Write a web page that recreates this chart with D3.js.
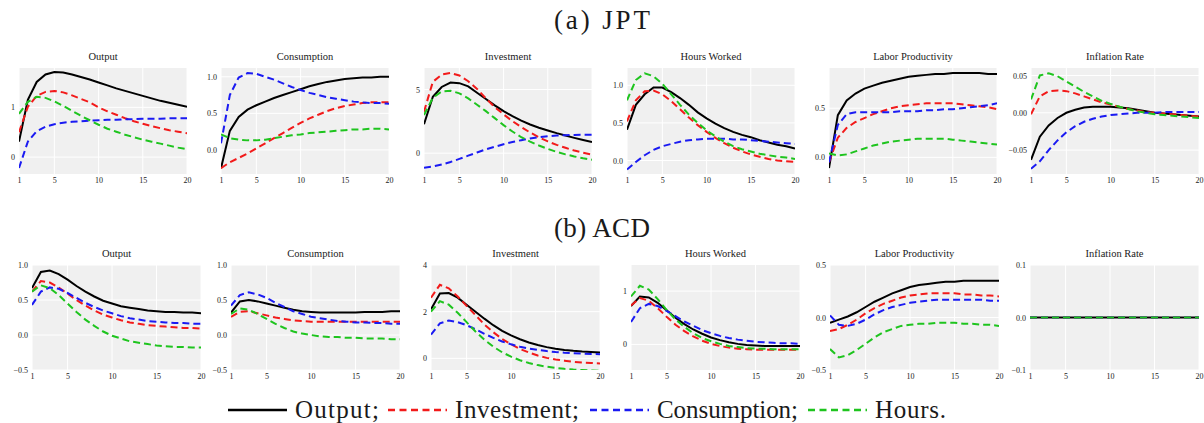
<!DOCTYPE html>
<html>
<head>
<meta charset="utf-8">
<script src="https://cdn.jsdelivr.net/npm/d3@7"></script>
<style>
  body { margin: 0; background: #ffffff; }
  text { font-family: "Liberation Serif", "DejaVu Serif", serif; fill: #1a1a1a; }
</style>
</head>
<body>
<svg id="chart" width="1204" height="423"></svg>
<script>
const steps = d3.range(1, 21);
const xTicks = [1, 5, 10, 15, 20];
const panelTitles = ['Output', 'Consumption', 'Investment', 'Hours Worked', 'Labor Productivity', 'Inflation Rate'];
const rowHeadings = ['(a) JPT', '(b) ACD'];
const seriesNames = ['Output;', 'Investment;', 'Consumption;', 'Hours.'];
const seriesColors = ['#000000', '#f21a1a', '#1a1af2', '#1ec41e'];

// each panel: [output, investment, consumption, hours] responses over 20 quarters
// (a) JPT
const jptOutput = [
    [0.31, 1.15, 1.51, 1.66, 1.71, 1.70, 1.66, 1.61, 1.56, 1.50, 1.44, 1.38, 1.33, 1.28, 1.23, 1.18, 1.13, 1.09, 1.05, 1.01],
    [0.50, 1.01, 1.23, 1.31, 1.33, 1.30, 1.24, 1.17, 1.10, 1.00, 0.92, 0.85, 0.78, 0.72, 0.67, 0.62, 0.58, 0.54, 0.51, 0.48],
    [-0.22, 0.31, 0.52, 0.61, 0.66, 0.69, 0.71, 0.72, 0.73, 0.74, 0.75, 0.75, 0.76, 0.76, 0.77, 0.77, 0.77, 0.78, 0.78, 0.78],
    [0.87, 1.11, 1.21, 1.19, 1.12, 1.03, 0.93, 0.83, 0.74, 0.65, 0.57, 0.51, 0.45, 0.40, 0.35, 0.31, 0.27, 0.23, 0.19, 0.16]
];
const jptConsumption = [
    [-0.25, 0.26, 0.45, 0.55, 0.61, 0.66, 0.71, 0.75, 0.79, 0.83, 0.87, 0.90, 0.93, 0.95, 0.97, 0.98, 0.99, 0.99, 1.00, 1.00],
    [-0.25, -0.17, -0.11, -0.05, 0.02, 0.09, 0.16, 0.23, 0.30, 0.37, 0.43, 0.48, 0.53, 0.57, 0.60, 0.62, 0.64, 0.65, 0.65, 0.65],
    [0.09, 0.75, 0.99, 1.05, 1.04, 1.00, 0.96, 0.91, 0.86, 0.82, 0.78, 0.75, 0.72, 0.70, 0.68, 0.66, 0.65, 0.64, 0.64, 0.63],
    [0.21, 0.16, 0.14, 0.13, 0.13, 0.14, 0.16, 0.18, 0.20, 0.21, 0.23, 0.24, 0.25, 0.26, 0.27, 0.28, 0.28, 0.29, 0.29, 0.28]
];
const jptInvestment = [
    [2.27, 4.43, 5.20, 5.55, 5.50, 5.25, 4.75, 4.25, 3.75, 3.30, 2.90, 2.55, 2.25, 2.00, 1.78, 1.57, 1.38, 1.20, 1.03, 0.87],
    [3.26, 5.60, 6.17, 6.30, 6.10, 5.65, 5.05, 4.30, 3.62, 3.05, 2.52, 2.05, 1.62, 1.25, 0.92, 0.65, 0.42, 0.20, 0.03, -0.13],
    [-1.15, -1.05, -0.90, -0.70, -0.45, -0.20, 0.05, 0.30, 0.50, 0.70, 0.88, 1.02, 1.15, 1.25, 1.33, 1.38, 1.41, 1.43, 1.44, 1.44],
    [3.00, 4.35, 4.85, 4.90, 4.70, 4.30, 3.80, 3.30, 2.75, 2.20, 1.70, 1.25, 0.90, 0.60, 0.33, 0.10, -0.10, -0.26, -0.40, -0.52]
];
const jptHours = [
    [0.41, 0.74, 0.88, 0.97, 0.97, 0.91, 0.83, 0.74, 0.64, 0.56, 0.49, 0.43, 0.38, 0.34, 0.31, 0.27, 0.24, 0.21, 0.19, 0.16],
    [0.52, 0.80, 0.92, 0.93, 0.88, 0.79, 0.68, 0.57, 0.47, 0.38, 0.30, 0.23, 0.17, 0.12, 0.08, 0.05, 0.02, 0.00, -0.01, -0.02],
    [-0.12, -0.02, 0.07, 0.14, 0.19, 0.22, 0.25, 0.27, 0.28, 0.29, 0.29, 0.29, 0.28, 0.28, 0.27, 0.26, 0.25, 0.24, 0.23, 0.22],
    [0.80, 1.07, 1.16, 1.12, 1.02, 0.88, 0.74, 0.61, 0.50, 0.40, 0.32, 0.25, 0.19, 0.15, 0.12, 0.09, 0.07, 0.05, 0.04, 0.02]
];
const jptProductivity = [
    [-0.11, 0.43, 0.58, 0.65, 0.70, 0.73, 0.76, 0.78, 0.80, 0.82, 0.83, 0.84, 0.85, 0.85, 0.86, 0.86, 0.86, 0.86, 0.85, 0.85],
    [-0.05, 0.20, 0.30, 0.36, 0.40, 0.44, 0.47, 0.50, 0.52, 0.53, 0.54, 0.55, 0.55, 0.55, 0.55, 0.54, 0.53, 0.52, 0.51, 0.49],
    [-0.05, 0.33, 0.44, 0.46, 0.46, 0.46, 0.46, 0.46, 0.47, 0.47, 0.47, 0.48, 0.48, 0.49, 0.49, 0.50, 0.51, 0.52, 0.53, 0.55],
    [0.04, 0.02, 0.03, 0.06, 0.09, 0.12, 0.14, 0.16, 0.17, 0.18, 0.19, 0.19, 0.19, 0.19, 0.18, 0.17, 0.16, 0.15, 0.14, 0.13]
];
const jptInflation = [
    [-0.063, -0.032, -0.017, -0.007, 0.000, 0.004, 0.007, 0.008, 0.008, 0.008, 0.007, 0.006, 0.004, 0.002, 0.000, -0.001, -0.002, -0.003, -0.004, -0.005],
    [-0.002, 0.022, 0.029, 0.030, 0.029, 0.026, 0.022, 0.018, 0.014, 0.011, 0.008, 0.005, 0.003, 0.001, 0.000, -0.001, -0.002, -0.003, -0.004, -0.005],
    [-0.075, -0.065, -0.050, -0.037, -0.026, -0.018, -0.012, -0.008, -0.005, -0.003, -0.002, -0.001, 0.000, 0.000, 0.000, 0.001, 0.001, 0.001, 0.001, 0.001],
    [0.018, 0.050, 0.053, 0.049, 0.042, 0.035, 0.028, 0.022, 0.016, 0.012, 0.008, 0.005, 0.002, 0.000, -0.002, -0.003, -0.004, -0.005, -0.006, -0.007]
];

// (b) ACD
const acdOutput = [
    [0.67, 0.90, 0.92, 0.87, 0.79, 0.70, 0.62, 0.55, 0.49, 0.45, 0.41, 0.39, 0.37, 0.35, 0.34, 0.33, 0.33, 0.32, 0.32, 0.31],
    [0.62, 0.77, 0.75, 0.68, 0.59, 0.50, 0.42, 0.35, 0.29, 0.25, 0.21, 0.18, 0.16, 0.14, 0.13, 0.12, 0.11, 0.10, 0.10, 0.09],
    [0.43, 0.62, 0.68, 0.66, 0.60, 0.53, 0.46, 0.40, 0.35, 0.31, 0.27, 0.24, 0.22, 0.20, 0.19, 0.18, 0.17, 0.17, 0.16, 0.16],
    [0.62, 0.71, 0.67, 0.57, 0.45, 0.33, 0.22, 0.13, 0.05, -0.01, -0.05, -0.09, -0.11, -0.13, -0.15, -0.16, -0.17, -0.17, -0.18, -0.18]
];
const acdConsumption = [
    [0.32, 0.48, 0.50, 0.48, 0.45, 0.42, 0.39, 0.36, 0.34, 0.33, 0.32, 0.32, 0.32, 0.32, 0.32, 0.33, 0.33, 0.33, 0.34, 0.34],
    [0.26, 0.33, 0.34, 0.31, 0.28, 0.25, 0.23, 0.21, 0.20, 0.19, 0.19, 0.19, 0.19, 0.19, 0.19, 0.19, 0.19, 0.19, 0.19, 0.19],
    [0.42, 0.57, 0.61, 0.58, 0.53, 0.46, 0.40, 0.34, 0.30, 0.26, 0.24, 0.22, 0.20, 0.19, 0.18, 0.18, 0.17, 0.17, 0.16, 0.16],
    [0.30, 0.38, 0.36, 0.30, 0.23, 0.16, 0.10, 0.05, 0.02, 0.00, -0.02, -0.03, -0.03, -0.04, -0.04, -0.05, -0.05, -0.05, -0.06, -0.06]
];
const acdInvestment = [
    [2.10, 2.78, 2.80, 2.60, 2.30, 2.00, 1.70, 1.42, 1.18, 0.98, 0.82, 0.68, 0.57, 0.48, 0.41, 0.36, 0.32, 0.29, 0.27, 0.25],
    [2.60, 3.15, 3.00, 2.65, 2.25, 1.85, 1.45, 1.12, 0.83, 0.60, 0.40, 0.25, 0.12, 0.02, -0.05, -0.10, -0.15, -0.18, -0.20, -0.22],
    [1.02, 1.50, 1.62, 1.55, 1.42, 1.25, 1.05, 0.88, 0.72, 0.60, 0.50, 0.42, 0.36, 0.31, 0.27, 0.24, 0.22, 0.20, 0.19, 0.18],
    [2.00, 2.45, 2.30, 1.95, 1.55, 1.15, 0.80, 0.50, 0.26, 0.07, -0.08, -0.20, -0.29, -0.36, -0.41, -0.45, -0.48, -0.50, -0.52, -0.53]
];
const acdHours = [
    [0.72, 0.90, 0.88, 0.78, 0.64, 0.50, 0.38, 0.28, 0.20, 0.13, 0.08, 0.04, 0.01, -0.01, -0.02, -0.03, -0.03, -0.03, -0.03, -0.03],
    [0.73, 0.87, 0.82, 0.68, 0.52, 0.37, 0.25, 0.15, 0.07, 0.01, -0.03, -0.06, -0.08, -0.09, -0.10, -0.10, -0.10, -0.10, -0.10, -0.10],
    [0.42, 0.68, 0.76, 0.72, 0.63, 0.53, 0.43, 0.35, 0.27, 0.21, 0.16, 0.12, 0.09, 0.07, 0.05, 0.04, 0.03, 0.02, 0.02, 0.01],
    [0.90, 1.10, 1.03, 0.85, 0.65, 0.47, 0.33, 0.21, 0.12, 0.06, 0.01, -0.03, -0.05, -0.07, -0.08, -0.08, -0.09, -0.09, -0.09, -0.09]
];
const acdProductivity = [
    [-0.05, -0.02, 0.01, 0.05, 0.10, 0.15, 0.19, 0.23, 0.26, 0.29, 0.31, 0.32, 0.33, 0.34, 0.34, 0.35, 0.35, 0.35, 0.35, 0.35],
    [-0.13, -0.11, -0.07, -0.02, 0.04, 0.09, 0.13, 0.16, 0.19, 0.21, 0.22, 0.23, 0.23, 0.23, 0.23, 0.22, 0.22, 0.21, 0.21, 0.20],
    [0.02, -0.07, -0.08, -0.06, -0.02, 0.03, 0.07, 0.10, 0.12, 0.14, 0.15, 0.16, 0.17, 0.17, 0.17, 0.17, 0.17, 0.17, 0.16, 0.16],
    [-0.30, -0.38, -0.36, -0.31, -0.25, -0.19, -0.14, -0.11, -0.08, -0.07, -0.06, -0.06, -0.05, -0.05, -0.05, -0.06, -0.06, -0.07, -0.07, -0.08]
];
const acdInflation = [
    [0, 0, 0, 0, 0, 0, 0, 0, 0, 0, 0, 0, 0, 0, 0, 0, 0, 0, 0, 0],
    [0, 0, 0, 0, 0, 0, 0, 0, 0, 0, 0, 0, 0, 0, 0, 0, 0, 0, 0, 0],
    [0, 0, 0, 0, 0, 0, 0, 0, 0, 0, 0, 0, 0, 0, 0, 0, 0, 0, 0, 0],
    [0, 0, 0, 0, 0, 0, 0, 0, 0, 0, 0, 0, 0, 0, 0, 0, 0, 0, 0, 0]
];

const jptYTicks = [[0, 1], [0, 0.5, 1], [0, 5], [0, 0.5, 1], [0, 0.5], [-0.05, 0, 0.05]];
const acdYTicks = [[-0.5, 0, 0.5, 1], [-0.5, 0, 0.5, 1], [0, 2, 4], [0, 1], [-0.5, 0, 0.5], [-0.1, 0, 0.1]];

// layout
const rows = [
    {
        heading: rowHeadings[0], headingY: 29, top: 68, bottom: 174,
        lefts: [19, 221, 424, 627, 829, 1031], width: 168,
        panels: [jptOutput, jptConsumption, jptInvestment, jptHours, jptProductivity, jptInflation],
        domains: [[-0.34, 1.79], [-0.33, 1.12], [-1.64, 6.69], [-0.18, 1.23], [-0.17, 0.91], [-0.082, 0.06]],
        ticks: jptYTicks,
        formats: ['d', '.1f', 'd', '.1f', '.1f', '.2f']
    },
    {
        heading: rowHeadings[1], headingY: 237, top: 265, bottom: 370,
        lefts: [32, 231, 431, 631, 830, 1030], width: 169,
        panels: [acdOutput, acdConsumption, acdInvestment, acdHours, acdProductivity, acdInflation],
        domains: [[-0.5, 1], [-0.5, 1], [-0.5, 4], [-0.48, 1.49], [-0.5, 0.5], [-0.1, 0.1]],
        ticks: acdYTicks,
        formats: ['.1f', '.1f', 'd', 'd', '.1f', '.1f']
    }
];

const svg = d3.select('#chart');
const minus = s => s.replace('-', '\u2212');

rows.forEach(row => {
    svg.append('text')
        .attr('x', 554)
        .attr('y', row.headingY)
        .attr('textLength', 96)
        .attr('lengthAdjust', 'spacing')
        .style('font-size', '27px')
        .text(row.heading);

    row.panels.forEach((series, i) => {
        const x = d3.scaleLinear().domain([1, 20]).range([row.lefts[i], row.lefts[i] + row.width]);
        const y = d3.scaleLinear().domain(row.domains[i]).range([row.bottom, row.top]);
        const g = svg.append('g');
        const clipId = `clip-${row.heading.charAt(1)}-${i}`;

        g.append('clipPath').attr('id', clipId)
            .append('rect')
            .attr('x', x.range()[0]).attr('y', row.top)
            .attr('width', row.width).attr('height', row.bottom - row.top);

        g.append('rect')
            .attr('x', x.range()[0]).attr('y', row.top)
            .attr('width', row.width).attr('height', row.bottom - row.top)
            .attr('fill', '#f0f0f0');

        // white grid
        g.selectAll('.vgrid').data(xTicks).enter().append('line')
            .attr('x1', d => x(d)).attr('x2', d => x(d))
            .attr('y1', row.top).attr('y2', row.bottom)
            .attr('stroke', '#ffffff').attr('stroke-width', 1);
        g.selectAll('.hgrid').data(row.ticks[i]).enter().append('line')
            .attr('x1', x.range()[0]).attr('x2', x.range()[1])
            .attr('y1', d => y(d)).attr('y2', d => y(d))
            .attr('stroke', '#ffffff').attr('stroke-width', 1);

        // tick labels
        const yAxis = d3.axisLeft(y).tickValues(row.ticks[i]).tickSize(0).tickPadding(4)
            .tickFormat(d => minus(d3.format(row.formats[i])(d)));
        const ya = g.append('g').attr('transform', `translate(${x.range()[0]},0)`).call(yAxis);
        const xAxis = d3.axisBottom(x).tickValues(xTicks).tickSize(0).tickPadding(3).tickFormat(d3.format('d'));
        const xa = g.append('g').attr('transform', `translate(0,${row.bottom})`).call(xAxis);
        [ya, xa].forEach(a => {
            a.select('.domain').remove();
            a.selectAll('text').style('font-size', '8px')
                .style('font-family', '"Liberation Serif", serif').attr('fill', '#333');
        });

        g.append('text')
            .attr('x', x.range()[0] + row.width / 2)
            .attr('y', row.top - 8)
            .attr('text-anchor', 'middle')
            .style('font-size', '10.5px')
            .text(panelTitles[i]);

        const line = d3.line().x((d, k) => x(steps[k])).y(d => y(d));
        const lines = g.append('g').attr('clip-path', `url(#${clipId})`);
        series.forEach((vals, s) => {
            lines.append('path')
                .datum(vals)
                .attr('d', line)
                .attr('fill', 'none')
                .attr('stroke', seriesColors[s])
                .attr('stroke-width', 2)
                .attr('stroke-dasharray', s === 0 ? null : '7,4');
        });
    });
});

// legend
const legendStarts = [228, 388, 590, 808];
const legendWidths = [84, 124, 141, 71];
const legend = svg.append('g').attr('transform', 'translate(0,410)');
seriesNames.forEach((name, s) => {
    legend.append('line')
        .attr('x1', legendStarts[s]).attr('x2', legendStarts[s] + 59)
        .attr('y1', 0).attr('y2', 0)
        .attr('stroke', seriesColors[s]).attr('stroke-width', 2.5)
        .attr('stroke-dasharray', s === 0 ? null : '7,4.5');
    legend.append('text')
        .attr('x', legendStarts[s] + 67).attr('y', 8)
        .attr('textLength', legendWidths[s])
        .attr('lengthAdjust', 'spacing')
        .style('font-size', '25px')
        .text(name);
});
</script>
</body>
</html>
